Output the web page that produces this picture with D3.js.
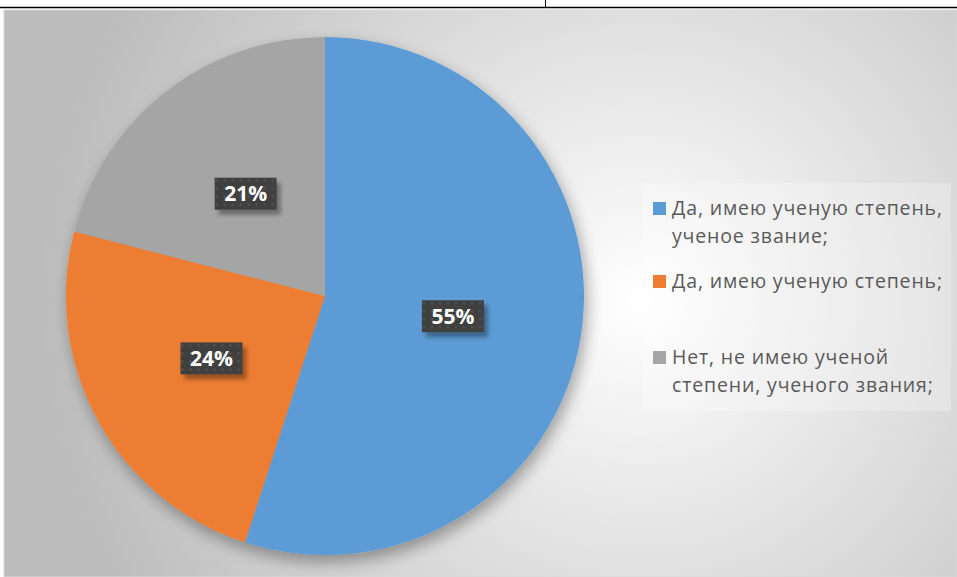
<!DOCTYPE html>
<html>
<head>
<meta charset="utf-8">
<script src="https://cdn.jsdelivr.net/npm/d3@7"></script>
<style>
  body { margin: 0; background: #fff; }
  svg { display: block; }
  .legend-text { font-family: "Open Sans", "Noto Sans", sans-serif; fill: #595959; letter-spacing: 0.85px; }
  .pct { font-family: "Open Sans", "Noto Sans", sans-serif; font-weight: bold; fill: #fff; }
</style>
</head>
<body>
<div id="chart"></div>
<script>
const categories = [
  ['Да, имею ученую степень,', 'ученое звание;'],
  ['Да, имею ученую степень;'],
  ['Нет, не имею ученой', 'степени, ученого звания;']
]
const values = [55, 24, 21]
const colors = ['#5b9bd5', '#ed7d31', '#a5a5a5']

const W = 957, H = 577
const svg = d3.select('#chart').append('svg')
  .attr('width', W)
  .attr('height', H)

const defs = svg.append('defs')

// background radial gradient
const grad = defs.append('radialGradient')
  .attr('id', 'bg')
  .attr('gradientUnits', 'userSpaceOnUse')
  .attr('cx', 640).attr('cy', 300).attr('r', 600)
grad.append('stop').attr('offset', '0%').attr('stop-color', '#ffffff')
grad.append('stop').attr('offset', '100%').attr('stop-color', '#bcbcbc')

const shadow = defs.append('filter').attr('id', 'shadow')
  .attr('x', '-20%').attr('y', '-20%').attr('width', '140%').attr('height', '140%')
shadow.append('feGaussianBlur').attr('in', 'SourceAlpha').attr('stdDeviation', 8)
shadow.append('feOffset').attr('dx', 3).attr('dy', 7).attr('result', 'b')
shadow.append('feComponentTransfer').append('feFuncA').attr('type', 'linear').attr('slope', 0.35)
const merge = shadow.append('feMerge')
merge.append('feMergeNode')
merge.append('feMergeNode').attr('in', 'SourceGraphic')

const boxShadow = defs.append('filter').attr('id', 'boxShadow')
  .attr('x', '-20%').attr('y', '-20%').attr('width', '150%').attr('height', '160%')
boxShadow.append('feGaussianBlur').attr('in', 'SourceAlpha').attr('stdDeviation', 2)
boxShadow.append('feOffset').attr('dx', 4).attr('dy', 5)
boxShadow.append('feComponentTransfer').append('feFuncA').attr('type', 'linear').attr('slope', 0.35)
const merge2 = boxShadow.append('feMerge')
merge2.append('feMergeNode')
merge2.append('feMergeNode').attr('in', 'SourceGraphic')

// dotted pattern for label boxes
const pat = defs.append('pattern')
  .attr('id', 'dots')
  .attr('patternUnits', 'userSpaceOnUse')
  .attr('width', 8).attr('height', 8)
pat.append('rect').attr('width', 8).attr('height', 8).attr('fill', '#404040')
pat.append('rect').attr('x', 2).attr('y', 2).attr('width', 2).attr('height', 2).attr('fill', '#555555')

// fragment of surrounding table
svg.append('line').attr('x1', 0).attr('x2', W).attr('y1', 7.5).attr('y2', 7.5)
  .attr('stroke', '#000').attr('stroke-width', 1.5)
svg.append('line').attr('x1', 545.5).attr('x2', 545.5).attr('y1', 0).attr('y2', 7)
  .attr('stroke', '#000')

// chart area
svg.append('rect')
  .attr('x', 4).attr('y', 10).attr('width', W - 4).attr('height', H - 10)
  .attr('fill', 'url(#bg)')
  .attr('stroke', '#d9d9d9')

const cx = 325, cy = 296, radius = 259

const pie = d3.pie().sort(null).value(d => d)
const arcs = pie(values)
const arc = d3.arc().innerRadius(0).outerRadius(radius)

const g = svg.append('g').attr('transform', `translate(${cx},${cy})`)

g.append('g').attr('filter', 'url(#shadow)')
  .selectAll('path')
  .data(arcs)
  .join('path')
  .attr('d', arc)
  .attr('fill', (d, i) => colors[i])

// data labels
const labelArc = d3.arc().innerRadius(radius * 0.5).outerRadius(radius * 0.5)
const labels = g.selectAll('.lbl')
  .data(arcs)
  .join('g')
  .attr('class', 'lbl')
  .attr('transform', d => `translate(${labelArc.centroid(d)})`)

labels.append('rect')
  .attr('x', -31).attr('y', -16).attr('width', 62).attr('height', 32)
  .attr('fill', 'url(#dots)')
  .attr('filter', 'url(#boxShadow)')

labels.append('text')
  .attr('class', 'pct')
  .attr('text-anchor', 'middle')
  .attr('dy', '0.36em')
  .style('font-size', '21px')
  .text(d => d.data + '%')

// legend
const legendX = 653
const itemTops = [209, 282, 358]
const lineH = 28

svg.append('rect')
  .attr('x', 643).attr('y', 183).attr('width', 308).attr('height', 228)
  .attr('fill', '#ffffff').attr('opacity', 0.25)

const legend = svg.selectAll('.legend-item')
  .data(categories)
  .join('g')
  .attr('class', 'legend-item')
  .attr('transform', (d, i) => `translate(${legendX},${itemTops[i]})`)

legend.append('rect')
  .attr('x', 0).attr('y', -7).attr('width', 13).attr('height', 13)
  .attr('fill', (d, i) => colors[i])

legend.each(function (lines) {
  const t = d3.select(this).append('text')
    .attr('class', 'legend-text')
    .style('font-size', '19.5px')
  lines.forEach((ln, j) => {
    t.append('tspan')
      .attr('x', 19)
      .attr('y', j * lineH + 6)
      .text(ln)
  })
})
</script>
</body>
</html>
